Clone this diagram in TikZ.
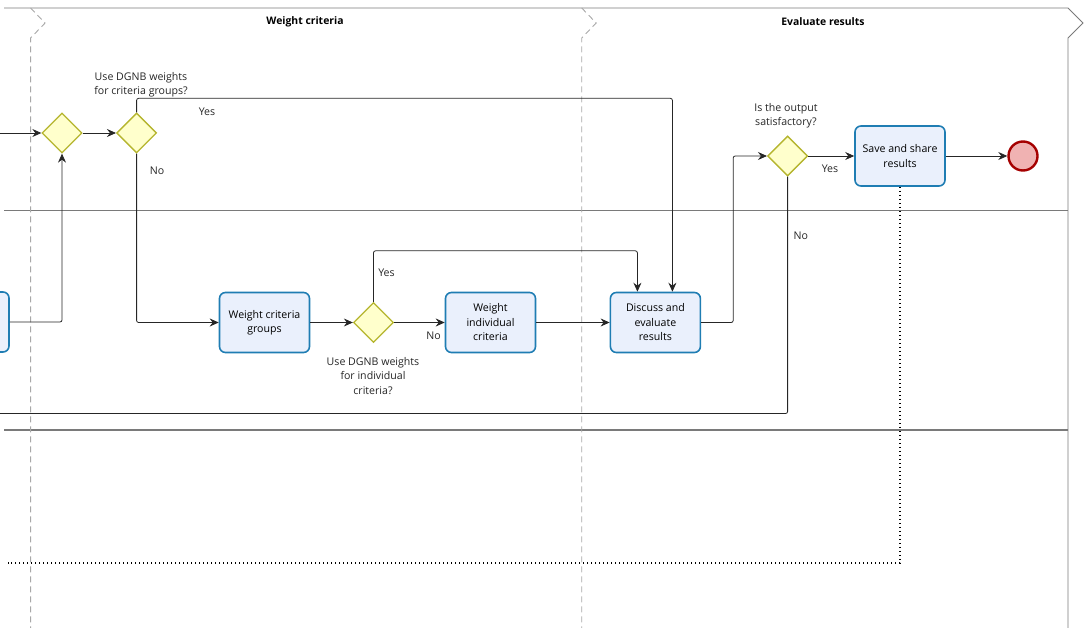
\documentclass[tikz,border=0pt]{standalone}
\usepackage{fontspec}
\setmainfont{Open Sans}
\usetikzlibrary{arrows.meta,shapes.geometric,calc,positioning}
\definecolor{taskrand}{HTML}{1F7DB3}
\definecolor{taskfill}{HTML}{EAF0FC}
\definecolor{gwrand}{HTML}{B5B52E}
\definecolor{gwfill}{HTML}{FFFFCC}
\definecolor{endrand}{HTML}{A50000}
\definecolor{endfill}{HTML}{F0B2B2}
\definecolor{lanegrau}{HTML}{7A7A7A}
\definecolor{phasegrau}{HTML}{A8A8A8}

\begin{document}
\begin{tikzpicture}[x=1pt,y=-1pt,
  font=\fontsize{10.6}{14.5}\selectfont,
  task/.style={draw=taskrand,fill=taskfill,line width=1.6pt,rounded corners=6pt,minimum width=90pt,minimum height=60pt,align=center,inner sep=2pt},
  gw/.style={diamond,draw=gwrand,fill=gwfill,line width=1.3pt,minimum width=40pt,minimum height=40pt,inner sep=0pt},
  endevent/.style={circle,draw=endrand,fill=endfill,line width=2.4pt,minimum size=29pt,inner sep=0pt},
  flow/.style={black!85,line width=0.8pt,rounded corners=2pt,-{Stealth[length=9pt,width=8pt,inset=3pt]}},
  plain/.style={black!85,line width=0.8pt,rounded corners=2pt},
  assoc/.style={black,line width=1.4pt,dash pattern=on 1.4pt off 2.6pt},
  lbl/.style={align=center,inner sep=0pt,text=black!85},
  phase/.style={phasegrau,line width=0.9pt,dash pattern=on 6pt off 4pt},
  lane/.style={lanegrau,line width=0.9pt}]
\clip (0,0) rectangle (1084,628);
%Pool und Bahnen
\draw[lane] (4,8) -- (1068,8) -- (1083,23) -- (1068,38) -- (1068,628);
\draw[lane] (4,210) -- (1068,210);
\draw[lane,line width=1.6pt] (4,430) -- (1068,430);
%Phasengrenzen (gestrichelt)
\foreach \px in {30.6,581.7}{
\draw[phase] (\px,8) -- ++(14.5,15) -- ++(-14.5,15) -- (\px,628);
}
\node[font=\fontsize{10.4}{12}\selectfont\bfseries] (phase1) at (305,22) {Weight criteria};
\node[font=\fontsize{10.4}{12}\selectfont\bfseries] (phase2) at (823,22) {Evaluate results};
%Knoten
\node[task] (t0) at (-36,322) {};
\node[gw] (g1) at (62,133) {};
\node[gw] (g2) at (136.6,133) {};
\node[task] (t1) at (264.5,322.5) {Weight criteria\\groups};
\node[gw] (g3) at (373.5,322.5) {};
\node[task] (t2) at (490.5,322.5) {Weight\\individual\\criteria};
\node[task] (t3) at (655.4,322.5) {Discuss and\\evaluate\\results};
\node[gw] (g4) at (787.6,156) {};
\node[task] (t4) at (900,156) {Save and share\\results};
\node[endevent] (ende) at (1023,156) {};
\coordinate (rein) at (0,133);
\coordinate (zurueck) at (0,413.5);
\coordinate (doku) at (8,563);
%Fragen
\node[lbl] (q1) at (141,84.5) {Use DGNB weights\\for criteria groups?};
\node[lbl] (q2) at (373,376) {Use DGNB weights\\for individual\\criteria?};
\node[lbl] (q3) at (786,115.5) {Is the output\\satisfactory?};
%Verbindungen
\draw[flow] (rein) -- (g1.west);
\draw[flow] (g1.east) -- (g2.west);
\draw[flow] (t0.east) -| (g1.south);
\draw[flow] (g2.north) -- ++(0,-14) -| ([xshift=17pt]t3.north);
\draw[flow] (g2.south) |- (t1.west);
\draw[flow] (t1.east) -- (g3.west);
\draw[flow] (g3.east) -- (t2.west);
\draw[flow] (g3.north) -- ++(0,-51) -| ([xshift=-18pt]t3.north);
\draw[flow] (t2.east) -- (t3.west);
\draw[flow] (t3.east) -- ++(32,0) |- (g4.west);
\draw[flow] (g4.east) -- (t4.west);
\draw[flow] (t4.east) -- (ende.west);
\draw[plain] (g4.south) |- (zurueck);
\draw[assoc] (t4.south) |- (doku);
%Beschriftungen
\node[lbl] (ja1) at (207,112) {Yes};
\node[lbl] (nein1) at (157,171) {No};
\node[lbl] (ja2) at (386.5,273) {Yes};
\node[lbl] (nein2) at (433.6,336) {No};
\node[lbl] (ja3) at (830,169) {Yes};
\node[lbl] (nein3) at (800.8,236) {No};
\end{tikzpicture}
\end{document}
